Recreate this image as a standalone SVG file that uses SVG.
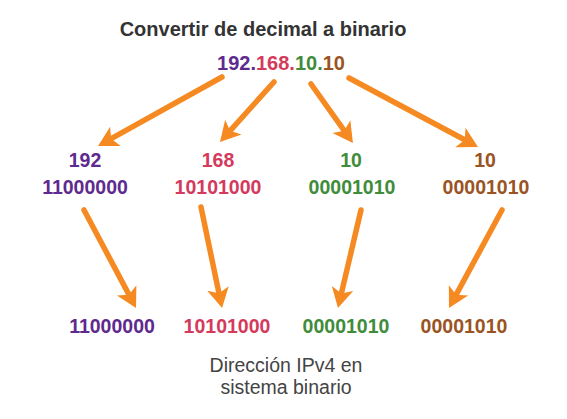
<svg xmlns="http://www.w3.org/2000/svg" width="567" height="419" viewBox="0 0 567 419">
<style>
text{font-family:"Liberation Sans",Arial,sans-serif;text-anchor:middle}
.b{font-weight:bold;font-size:19.5px}
.p{fill:#5f2a8e}.r{fill:#d43a5c}.g{fill:#3f8c3a}.o{fill:#9a5424}
.cap{font-size:19.5px;fill:#444}
.arr line{stroke:#f68a22;stroke-width:5.5;stroke-linecap:round;marker-end:url(#ah)}
</style>
<defs>
<marker id="ah" markerUnits="userSpaceOnUse" markerWidth="22" markerHeight="24" viewBox="0 -12 22 24" refX="8" refY="0" orient="auto">
<path d="M20,0 L0,-11 L5,0 L0,11 Z" fill="#f68a22"/>
</marker>
</defs>
<rect width="567" height="419" fill="#fff"/>
<g id="title"><text x="263" y="36" class="b" style="fill:#333;font-size:20px">Convertir de decimal a binario</text></g>
<g id="ip"><text x="281" y="70" class="b" style="font-size:20px"><tspan class="p">192.</tspan><tspan class="r">168.</tspan><tspan class="g">10.</tspan><tspan class="o">10</tspan></text></g>
<g id="n192"><text x="85" y="167" class="b p">192</text><text x="85" y="194" class="b p">11000000</text></g>
<g id="n168"><text x="218" y="167" class="b r">168</text><text x="218" y="194" class="b r">10101000</text></g>
<g id="n10a"><text x="351" y="167" class="b g">10</text><text x="352" y="194" class="b g">00001010</text></g>
<g id="n10b"><text x="485" y="167" class="b o">10</text><text x="486" y="194" class="b o">00001010</text></g>
<g id="b1"><text x="112" y="333" class="b p">11000000</text></g>
<g id="b2"><text x="227" y="333" class="b r">10101000</text></g>
<g id="b3"><text x="346" y="333" class="b g">00001010</text></g>
<g id="b4"><text x="464" y="333" class="b o">00001010</text></g>
<g id="caption"><text x="286" y="372" class="cap">Dirección IPv4 en</text><text x="286" y="394" class="cap">sistema binario</text></g>
<g id="connectors" class="arr">
<line x1="222" y1="77" x2="108.5" y2="140.2"/>
<line x1="274" y1="82" x2="228" y2="133.1"/>
<line x1="311" y1="84" x2="346" y2="133.2"/>
<line x1="349" y1="78" x2="467.4" y2="141.3"/>
<line x1="84" y1="210" x2="130.4" y2="297.4"/>
<line x1="201" y1="207" x2="219.6" y2="296.3"/>
<line x1="361" y1="210" x2="340.7" y2="296.3"/>
<line x1="502" y1="210" x2="454.7" y2="297.4"/>
</g>
</svg>
